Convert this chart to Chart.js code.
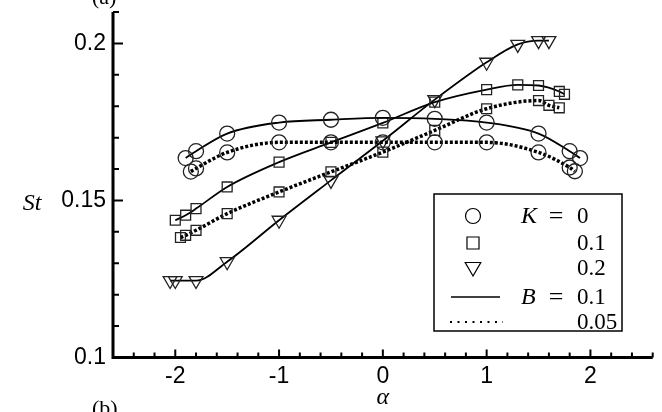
<!DOCTYPE html>
<html>
<head>
  <title>St vs alpha</title>
  <script src="https://cdn.jsdelivr.net/npm/chart.js"></script>
  <style>
    body { margin: 0; background: #fff; }
    #wrap { width: 662px; height: 412px; }
  </style>
</head>
<body>
  <div id="wrap"><canvas id="chart" width="662" height="412"></canvas></div>
  <script>
    // values
    const circB1X  = [-1.9, -1.8, -1.5, -1, -0.5, 0, 0.5, 1, 1.5, 1.8, 1.9];
    const circB1Y  = [0.1635, 0.1657, 0.1713, 0.1748, 0.1757, 0.1763, 0.1760, 0.1748, 0.1713, 0.1657, 0.1635];
    const circB05X = [-1.85, -1.8, -1.5, -1, -0.5, 0, 0.5, 1, 1.5, 1.8, 1.85];
    const circB05Y = [0.1592, 0.1602, 0.1653, 0.1685, 0.1685, 0.1685, 0.1685, 0.1685, 0.1653, 0.1605, 0.1593];
    const sqB1X  = [-2, -1.9, -1.8, -1.5, -1, -0.5, 0, 0.5, 1, 1.3, 1.5, 1.7, 1.75];
    const sqB1Y  = [0.1437, 0.1453, 0.1474, 0.1543, 0.1622, 0.1685, 0.1747, 0.1813, 0.1853, 0.1868, 0.1866, 0.1847, 0.1838];
    const sqB05X = [-1.95, -1.9, -1.8, -1.5, -1, -0.5, 0, 0.5, 1, 1.5, 1.6, 1.7];
    const sqB05Y = [0.1382, 0.1389, 0.1405, 0.1458, 0.1527, 0.1591, 0.1654, 0.1723, 0.1792, 0.1818, 0.1803, 0.1795];
    const triB1X = [-2.05, -2, -1.8, -1.5, -1, -0.5, 0, 0.5, 1, 1.3, 1.5, 1.6];
    const triB1Y = [0.1245, 0.1245, 0.1245, 0.1305, 0.1437, 0.1564, 0.1690, 0.1821, 0.1940, 0.1997, 0.2009, 0.2009];

    const xTicks = [-2, -1, 0, 1, 2];
    const xTickLabels = ['-2', '-1', '0', '1', '2'];
    const yTicks = [0.1, 0.15, 0.2];
    const yTickLabels = ['0.1', '0.15', '0.2'];
    const kLabels = ['0', '0.1', '0.2'];
    const bLabels = ['0.1', '0.05'];

    const pts = (xs, ys) => xs.map((x, i) => ({ x: x, y: ys[i] }));

    const solid = { borderColor: '#000', borderWidth: 1.8, borderDash: [] };
    const dotted = { borderColor: '#000', borderWidth: 3.5, borderDash: [3, 2] };
    const circ = { pointStyle: 'circle', pointRadius: 7.5, pointRotation: 0 };
    const sq = { pointStyle: 'rect', pointRadius: 7, pointRotation: 0 };
    const tri = { pointStyle: 'triangle', pointRadius: 8, pointRotation: 180 };

    function ds(data, line, mark) {
      return Object.assign({
        data: data,
        showLine: true,
        cubicInterpolationMode: 'monotone',
        tension: 0.4,
        backgroundColor: 'rgba(0,0,0,0)',
        pointBackgroundColor: 'rgba(0,0,0,0)',
        pointBorderColor: '#222',
        pointBorderWidth: 1.3,
        fill: false
      }, line, mark);
    }

    // axes drawn by hand: ticks point inward like the original
    const axesPlugin = {
      id: 'axes',
      afterDatasetsDraw(c) {
        const ctx = c.ctx, a = c.chartArea;
        const xs = c.scales.x, ys = c.scales.y;
        ctx.save();
        ctx.strokeStyle = '#000';
        ctx.lineWidth = 3;
        ctx.beginPath();
        ctx.moveTo(a.left, a.top);
        ctx.lineTo(a.left, a.bottom);
        ctx.lineTo(a.right, a.bottom);
        ctx.stroke();
        ctx.lineWidth = 2;
        ctx.beginPath();
        for (let k = 0; k <= 11; k++) {
          const y = ys.getPixelForValue(0.1 + k * 0.01);
          const len = (k % 5 === 0) ? 10 : 6;
          ctx.moveTo(a.left, y);
          ctx.lineTo(a.left + len, y);
        }
        for (let k = -13; k <= 13; k++) {
          const x = xs.getPixelForValue(k * 0.2);
          const len = (k % 5 === 0) ? 8 : 5;
          ctx.moveTo(x, a.bottom);
          ctx.lineTo(x, a.bottom - len);
        }
        ctx.stroke();

        // axis titles
        ctx.fillStyle = '#000';
        ctx.font = 'italic 24px "Liberation Serif"';
        ctx.textAlign = 'center';
        ctx.textBaseline = 'alphabetic';
        ctx.fillText('St', 32, 210);
        ctx.fillText('\u03b1', xs.getPixelForValue(0), 404);

        // neighbouring panel labels, cut by the frame
        ctx.font = '22px "Liberation Serif"';
        ctx.textAlign = 'left';
        ctx.fillText('(a)', 92, 4);
        ctx.fillText('(b)', 92, 415);

        // legend
        ctx.lineWidth = 1.5;
        ctx.strokeRect(434, 194, 188, 137);
        const sx = 473, nx = 577;
        const rows = [216, 243, 268, 297, 322];
        const marks = [
          { pointStyle: 'circle', radius: 7.5, rotation: 0 },
          { pointStyle: 'rect', radius: 8.5, rotation: 0 },
          { pointStyle: 'triangle', radius: 9, rotation: 180 }
        ];
        ctx.lineWidth = 1.2;
        marks.forEach((m, i) => {
          ctx.fillStyle = 'rgba(0,0,0,0)';
          Chart.helpers.drawPoint(ctx, Object.assign({ borderWidth: 1.2 }, m), sx, rows[i] + (i === 2 ? -1 : 0));
        });
        ctx.lineWidth = 1.3;
        ctx.beginPath();
        ctx.moveTo(451, rows[3]);
        ctx.lineTo(500, rows[3]);
        ctx.stroke();
        ctx.lineWidth = 2;
        ctx.setLineDash([2, 5.5]);
        ctx.beginPath();
        ctx.moveTo(450, rows[4]);
        ctx.lineTo(503, rows[4]);
        ctx.stroke();
        ctx.setLineDash([]);

        ctx.fillStyle = '#000';
        ctx.textBaseline = 'middle';
        ctx.textAlign = 'left';
        ctx.font = '23px "Liberation Serif"';
        kLabels.forEach((t, i) => ctx.fillText(t, nx, rows[i] + 1));
        bLabels.forEach((t, i) => ctx.fillText(t, nx, rows[i + 3] + 1));
        ctx.textAlign = 'center';
        ctx.font = '26px "Liberation Serif"';
        ctx.fillText('=', 556, rows[0] + 1);
        ctx.fillText('=', 556, rows[3] + 1);
        ctx.textAlign = 'left';
        ctx.font = 'italic 24px "Liberation Serif"';
        ctx.fillText('K', 521, rows[0] + 1);
        ctx.fillText('B', 521, rows[3] + 1);
        ctx.restore();
      }
    };

    const tickFont = { family: '"Liberation Sans", Arial, sans-serif', size: 23 };

    function noPad(s) {
      s.paddingTop = 0;
      s.paddingBottom = 0;
      s.paddingLeft = 0;
      s.paddingRight = 0;
    }

    new Chart(document.getElementById('chart').getContext('2d'), {
      type: 'line',
      data: {
        datasets: [
          ds(pts(circB1X, circB1Y), solid, circ),
          ds(pts(circB05X, circB05Y), dotted, circ),
          ds(pts(sqB1X, sqB1Y), solid, sq),
          ds(pts(sqB05X, sqB05Y), dotted, sq),
          ds(pts(triB1X, triB1Y), solid, tri)
        ]
      },
      options: {
        responsive: false,
        animation: false,
        devicePixelRatio: 1,
        layout: { padding: { left: 0, right: 5, top: 12, bottom: 0 } },
        plugins: { legend: { display: false }, tooltip: { enabled: false } },
        scales: {
          x: {
            type: 'linear',
            min: -2.6,
            max: 2.6,
            grid: { display: false, drawTicks: false },
            border: { display: false },
            afterBuildTicks: s => { s.ticks = xTicks.map(v => ({ value: v })); },
            afterFit: s => { s.height = 54.5; noPad(s); },
            ticks: {
              color: '#000',
              font: tickFont,
              padding: 5,
              maxRotation: 0,
              callback: (v, i) => xTickLabels[i]
            }
          },
          y: {
            type: 'linear',
            min: 0.1,
            max: 0.21,
            grid: { display: false, drawTicks: false },
            border: { display: false },
            afterBuildTicks: s => { s.ticks = yTicks.map(v => ({ value: v })); },
            afterFit: s => { s.width = 113; noPad(s); },
            ticks: {
              color: '#000',
              font: tickFont,
              padding: 7,
              callback: (v, i) => yTickLabels[i]
            }
          }
        }
      },
      plugins: [axesPlugin]
    });
  </script>
</body>
</html>
